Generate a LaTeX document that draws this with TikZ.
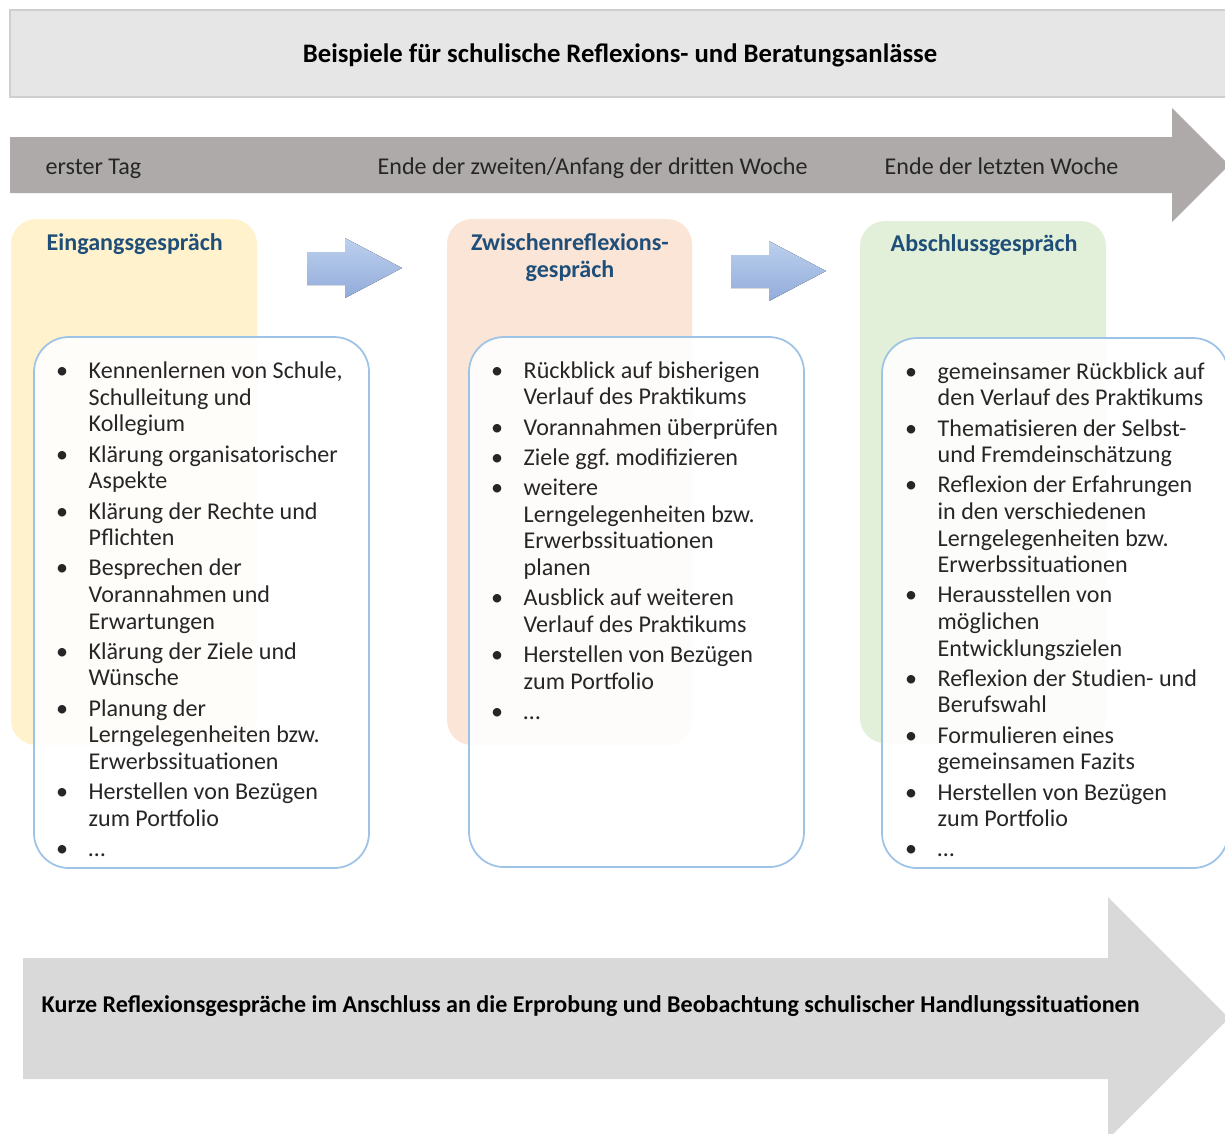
\documentclass[tikz,border=0pt]{standalone}
\usepackage{fontspec}
\setmainfont{Carlito}
\usetikzlibrary{positioning,calc}
\definecolor{rbtitle}{HTML}{E7E6E6}
\definecolor{rbtitleedge}{HTML}{D0CECE}
\definecolor{rbtime}{HTML}{AEAAAA}
\definecolor{rbyellow}{HTML}{FFF2CC}
\definecolor{rbpeach}{HTML}{FBE5D6}
\definecolor{rbgreen}{HTML}{E2F0D9}
\definecolor{rbnavy}{HTML}{1F4E79}
\definecolor{rbedge}{HTML}{9DC3E6}
\definecolor{rbbluetop}{HTML}{BCD0EE}
\definecolor{rbbluebot}{HTML}{92ACDA}
\definecolor{rbbottom}{HTML}{D9D9D9}
\definecolor{rbtext}{HTML}{262626}
\newcommand{\rbfont}{\fontsize{6.85}{7.56}\selectfont}
\newcommand{\rbitem}[1]{\textbullet & #1\\[1.05pt]}

\begin{document}
\begin{tikzpicture}[x=1cm,y=1cm,every node/.style={font=\rbfont,inner sep=0pt}]
\tikzset{phase/.style={rounded corners=2.5mm},
  listbox/.style={draw=rbedge,line width=0.5pt,fill=white,fill opacity=0.9,rounded corners=3.5mm},
  head/.style={font=\rbfont\bfseries,text=rbnavy,align=center},
  stamp/.style={text=rbtext,anchor=base west},
  items/.style={anchor=north west,text=rbtext,align=left},
  flow/.style={top color=rbbluetop,bottom color=rbbluebot}}
\useasboundingbox (0,0) rectangle (12.25,-11.33);
% title bar
\draw[rbtitleedge,fill=rbtitle,line width=0.6pt] (0.10,-0.10) rectangle (12.35,-0.97);
\node[font=\fontsize{7.6}{9}\selectfont\bfseries,anchor=base] (title) at (6.20,-0.62) {Beispiele für schulische Reflexions- und Beratungsanlässe};
% time line
\fill[rbtime] (0.10,-1.37) -- (11.72,-1.37) -- (11.72,-1.08) -- (12.29,-1.65)
  -- (11.72,-2.22) -- (11.72,-1.93) -- (0.10,-1.93) -- cycle;
\node[stamp] (t1) at (0.45,-1.745) {erster Tag};
\node[stamp] (t2) at (3.77,-1.745) {Ende der zweiten/Anfang der dritten Woche};
\node[stamp] (t3) at (8.84,-1.745) {Ende der letzten Woche};
% phases
\fill[phase,rbyellow] (0.11,-2.19) rectangle (2.57,-7.45);
\fill[phase,rbpeach] (4.47,-2.19) rectangle (6.92,-7.45);
\fill[phase,rbgreen] (8.60,-2.21) rectangle (11.06,-7.43);
\node[head,anchor=base west] (p1) at (0.46,-2.50) {Eingangsgespräch};
\node[head,anchor=base] (p2) at (5.70,-2.77) {Zwischenreflexions-\\gespräch};
\node[head,anchor=base west] (p3) at (8.90,-2.51) {Abschlussgespräch};
\foreach \x/\y in {3.07/2.38,7.31/2.41}{
  \fill[flow] (\x,-\y-0.14) -- (\x+0.38,-\y-0.14) -- (\x+0.38,-\y) -- (\x+0.95,-\y-0.30)
    -- (\x+0.38,-\y-0.60) -- (\x+0.38,-\y-0.47) -- (\x,-\y-0.47) -- cycle;
}
% lists
\draw[listbox] (0.34,-3.37) rectangle (3.69,-8.68);
\draw[listbox] (4.69,-3.37) rectangle (8.04,-8.67);
\draw[listbox] (8.82,-3.38) rectangle (12.28,-8.68);
\node[items] (l1) at (0.555,-3.595) {\begin{tabular}{@{}p{3.25mm}@{}p{32mm}@{}}
\rbitem{Kennenlernen von Schule,\newline Schulleitung und\newline Kollegium}
\rbitem{Klärung organisatorischer\newline Aspekte}
\rbitem{Klärung der Rechte und\newline Pflichten}
\rbitem{Besprechen der\newline Vorannahmen und\newline Erwartungen}
\rbitem{Klärung der Ziele und\newline Wünsche}
\rbitem{Planung der\newline Lerngelegenheiten bzw.\newline Erwerbssituationen}
\rbitem{Herstellen von Bezügen\newline zum Portfolio}
\rbitem{…}
\end{tabular}};
\node[items] (l2) at (4.905,-3.59) {\begin{tabular}{@{}p{3.25mm}@{}p{32mm}@{}}
\rbitem{Rückblick auf bisherigen\newline Verlauf des Praktikums}
\rbitem{Vorannahmen überprüfen}
\rbitem{Ziele ggf.\ modifizieren}
\rbitem{weitere\newline Lerngelegenheiten bzw.\newline Erwerbssituationen\newline planen}
\rbitem{Ausblick auf weiteren\newline Verlauf des Praktikums}
\rbitem{Herstellen von Bezügen\newline zum Portfolio}
\rbitem{…}
\end{tabular}};
\node[items] (l3) at (9.045,-3.60) {\begin{tabular}{@{}p{3.25mm}@{}p{32mm}@{}}
\rbitem{gemeinsamer Rückblick auf\newline den Verlauf des Praktikums}
\rbitem{Thematisieren der Selbst-\newline und Fremdeinschätzung}
\rbitem{Reflexion der Erfahrungen\newline in den verschiedenen\newline Lerngelegenheiten bzw.\newline Erwerbssituationen}
\rbitem{Herausstellen von\newline möglichen\newline Entwicklungszielen}
\rbitem{Reflexion der Studien- und\newline Berufswahl}
\rbitem{Formulieren eines\newline gemeinsamen Fazits}
\rbitem{Herstellen von Bezügen\newline zum Portfolio}
\rbitem{…}
\end{tabular}};
% short reflections
\fill[rbbottom] (0.23,-9.58) -- (11.08,-9.58) -- (11.08,-8.97) -- (12.29,-10.18)
  -- (11.08,-11.39) -- (11.08,-10.79) -- (0.23,-10.79) -- cycle;
\node[font=\rbfont\bfseries,anchor=base west] (kurz) at (0.41,-10.12) {Kurze Reflexionsgespräche im Anschluss an die Erprobung und Beobachtung schulischer Handlungssituationen};
\end{tikzpicture}
\end{document}
